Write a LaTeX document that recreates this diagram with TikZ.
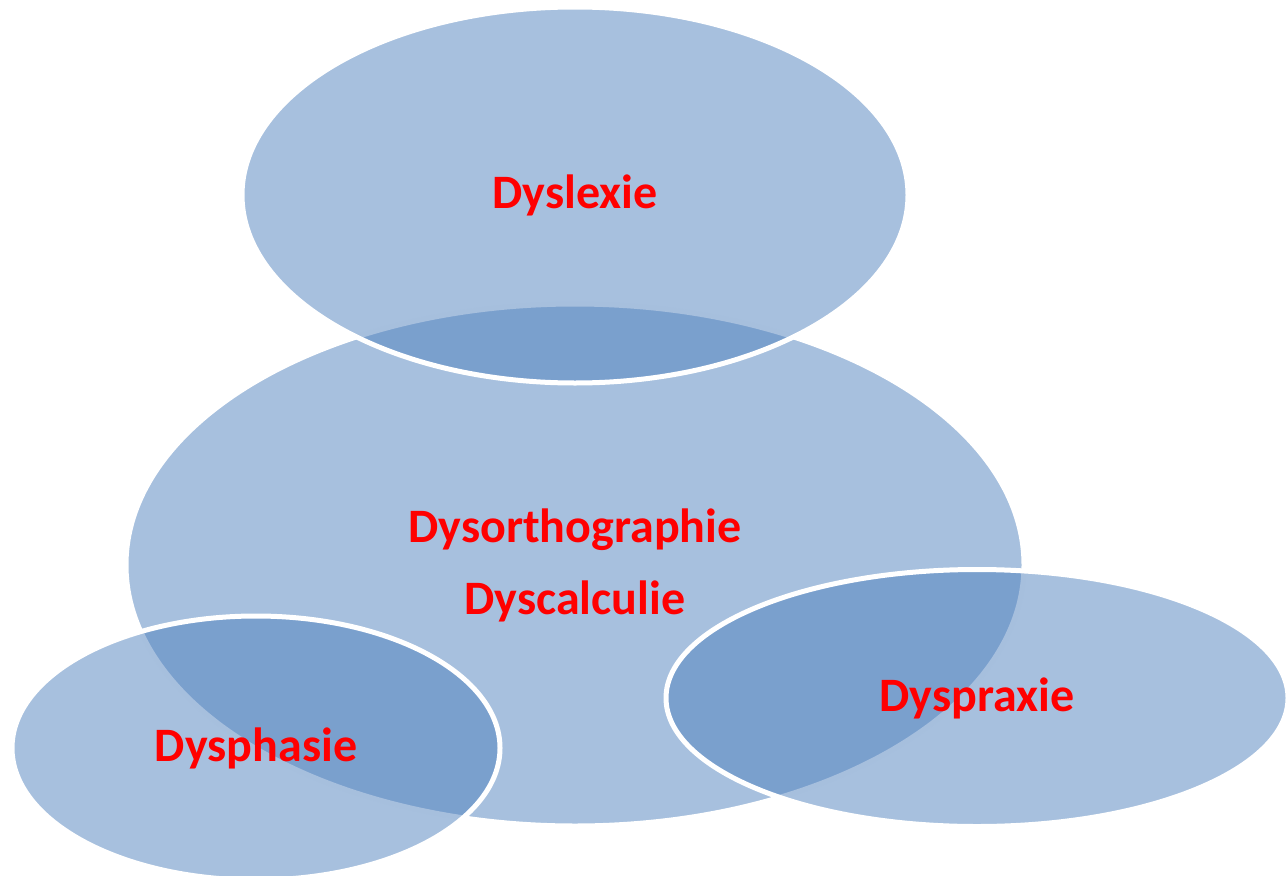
\documentclass[tikz,border=0pt]{standalone}
\usepackage{fontspec}
\setmainfont{Carlito}
\usetikzlibrary{shapes.geometric}
\definecolor{blob}{HTML}{4F81BD}
\definecolor{lbl}{HTML}{FF0000}
\tikzset{
  blobby/.style={ellipse, fill=blob, fill opacity=0.5, text opacity=1,
    draw=white, line width=5pt, inner sep=0pt, text=lbl,
    font=\fontsize{48}{72}\selectfont\bfseries, align=center},
}
\begin{document}
\begin{tikzpicture}[x=1pt,y=-1pt]
\useasboundingbox (0,0) rectangle (1287,875);
\node[blobby, minimum width=898pt, minimum height=522pt] (big) at (575,565) {Dysorthographie\\Dyscalculie};
\node[blobby, minimum width=666pt, minimum height=376pt] (top) at (575,195) {Dyslexie};
\node[blobby, minimum width=488pt, minimum height=264pt] (phas) at (256,748) {Dysphasie};
\node[blobby, minimum width=622pt, minimum height=257pt] (prax) at (977,698) {Dyspraxie};
\end{tikzpicture}
\end{document}
